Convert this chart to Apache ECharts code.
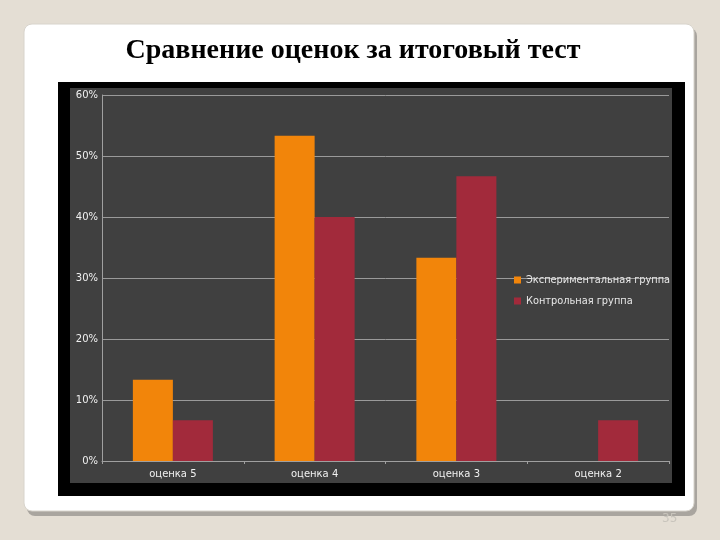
<!DOCTYPE html>
<html>
<head>
<meta charset="utf-8">
<script src="https://cdn.jsdelivr.net/npm/echarts@6/dist/echarts.min.js"></script>
<style>
  html, body { margin: 0; padding: 0; background: #e4ded4; }
  #main { width: 720px; height: 540px; }
</style>
</head>
<body>
<div id="main"></div>
<script>
  // данные диаграммы
  var categories = ['оценка 5', 'оценка 4', 'оценка 3', 'оценка 2'];
  var expGroup = [13.3, 53.3, 33.3, 0];
  var ctrlGroup = [6.7, 40, 46.7, 6.7];
  var seriesNames = ['Экспериментальная группа', 'Контрольная группа'];

  var dom = document.getElementById('main');
  var myChart = echarts.init(dom);

  var option = {
    backgroundColor: '#e4ded4',
    textStyle: { fontFamily: 'DejaVu Sans' },
    title: {
      text: 'Сравнение оценок за итоговый тест',
      left: 348,
      top: 32,
      textAlign: 'center',
      textStyle: {
        fontFamily: 'Liberation Serif',
        fontSize: 28,
        fontWeight: 'bold',
        color: '#000'
      }
    },
    graphic: [
      // белая карточка слайда с тенью
      {
        type: 'rect', z: -10, silent: true,
        shape: { x: 27, y: 28, width: 670, height: 488, r: 8 },
        style: { fill: '#a9a59f' }
      },
      {
        type: 'rect', z: -9, silent: true,
        shape: { x: 24, y: 24, width: 670, height: 487, r: 8 },
        style: { fill: '#ffffff', stroke: '#d8d4cc', lineWidth: 1 }
      },
      // чёрная рамка диаграммы
      {
        type: 'rect', z: -8, silent: true,
        shape: { x: 58, y: 82, width: 627, height: 414 },
        style: { fill: '#000000' }
      },
      // серая панель
      {
        type: 'rect', z: -7, silent: true,
        shape: { x: 70, y: 88, width: 602, height: 395 },
        style: { fill: '#404040' }
      },
      // номер слайда
      {
        type: 'text', silent: true,
        left: 662, top: 513,
        style: { text: '35', fill: '#c8c4bc', font: '12px DejaVu Sans' }
      }
    ],
    legend: {
      orient: 'vertical',
      left: 509,
      top: 270,
      itemWidth: 7,
      itemHeight: 7,
      itemGap: 11,
      icon: 'rect',
      textStyle: { color: '#e8e8e8', fontSize: 9.8, fontFamily: 'DejaVu Sans' },
      data: seriesNames
    },
    grid: {
      left: 102,
      right: 51,
      top: 95,
      bottom: 79
    },
    xAxis: {
      type: 'category',
      data: categories,
      axisLine: { lineStyle: { color: '#a0a0a0' } },
      axisTick: { show: true, length: 3, lineStyle: { color: '#a0a0a0' } },
      axisLabel: { color: '#f0f0f0', fontSize: 10, margin: 8 }
    },
    yAxis: {
      type: 'value',
      min: 0,
      max: 60,
      interval: 10,
      axisLine: { show: true, lineStyle: { color: '#a0a0a0' } },
      axisTick: { show: false },
      axisLabel: {
        color: '#f0f0f0', fontSize: 10, margin: 4,
        formatter: '{value}%'
      },
      splitLine: { lineStyle: { color: '#9a9a9a', width: 1 } }
    },
    series: [
      {
        name: seriesNames[0],
        type: 'bar',
        data: expGroup,
        barWidth: 40,
        barGap: '0%',
        itemStyle: { color: '#f2850a' }
      },
      {
        name: seriesNames[1],
        type: 'bar',
        data: ctrlGroup,
        barWidth: 40,
        itemStyle: { color: '#a22a3b' }
      }
    ]
  };

  myChart.setOption(option, true);
</script>
</body>
</html>
